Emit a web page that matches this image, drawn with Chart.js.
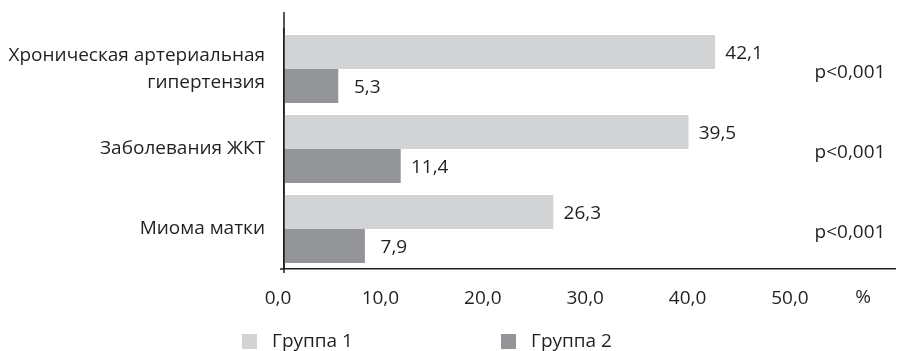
<!DOCTYPE html>
<html>
<head>
<meta charset="utf-8">
<script src="https://cdn.jsdelivr.net/npm/chart.js@4"></script>
<style>
  html, body { margin: 0; padding: 0; background: #ffffff; }
  #wrap { width: 897px; height: 351px; position: relative; }
</style>
</head>
<body>
<div id="wrap"><canvas id="c" width="897" height="351"></canvas></div>
<script>
const categories = [["Хроническая артериальная", "гипертензия"], "Заболевания ЖКТ", "Миома матки"];
const seriesNames = ["Группа 1", "Группа 2"];
const group1 = [42.1, 39.5, 26.3];
const group2 = [5.3, 11.4, 7.9];
const xTickValues = [0, 10, 20, 30, 40, 50];
const pValues = ["p<0,001", "p<0,001", "p<0,001"];
const unitLabel = "%";

const colors = ["#d1d3d4", "#939598"];
const textColor = "#231f20";
const FONT = "'Open Sans', sans-serif";
const FS = 19;

function fmt(v) { return v.toFixed(1).replace('.', ','); }

const annotPlugin = {
  id: 'annot',
  afterDraw(chart) {
    const ctx = chart.ctx;
    const ca = chart.chartArea;
    const ys = chart.scales.y;
    ctx.save();
    ctx.strokeStyle = textColor;
    ctx.lineWidth = 1.5;
    ctx.beginPath();
    ctx.moveTo(ca.left, 12);
    ctx.lineTo(ca.left, ca.bottom + 4);
    ctx.moveTo(ca.left - 4, ca.bottom);
    ctx.lineTo(ca.left, ca.bottom);
    ctx.stroke();

    ctx.font = FS + "px " + FONT;
    ctx.fillStyle = textColor;
    ctx.textBaseline = 'middle';
    ctx.textAlign = 'center';
    chart.data.datasets.forEach((ds, di) => {
      const meta = chart.getDatasetMeta(di);
      meta.data.forEach((bar, i) => {
        ctx.fillText(fmt(ds.data[i]), bar.x + 29, bar.y + 2);
      });
    });
    pValues.forEach((p, i) => {
      const y = ys.getPixelForValue(i);
      ctx.fillText(p, ca.right - 45, y + 4);
    });
    ctx.fillText(unitLabel, ca.right - 32, ca.bottom + 29);
    const legX = [242, 501];
    const legY = 342;
    seriesNames.forEach((n, i) => {
      ctx.fillStyle = colors[i];
      ctx.fillRect(legX[i], legY - 8, 15, 15);
      ctx.fillStyle = textColor;
      ctx.textAlign = 'left';
      ctx.fillText(n, legX[i] + 30, legY);
    });
    ctx.restore();
  }
};

new Chart(document.getElementById('c'), {
  type: 'bar',
  data: {
    labels: categories,
    datasets: [
      { label: seriesNames[0], data: group1, backgroundColor: colors[0], categoryPercentage: 0.85, barPercentage: 1.0 },
      { label: seriesNames[1], data: group2, backgroundColor: colors[1], categoryPercentage: 0.85, barPercentage: 1.0 }
    ]
  },
  options: {
    indexAxis: 'y',
    responsive: false,
    animation: false,
    events: [],
    layout: { padding: { top: 29, right: 2, bottom: 42, left: 0 } },
    plugins: { legend: { display: false }, tooltip: { enabled: false } },
    scales: {
      x: {
        min: 0,
        max: 59.67,
        afterBuildTicks(scale) { scale.ticks = xTickValues.map(v => ({ value: v })); },
        afterFit(scale) { scale.height = 40; scale.paddingLeft = 0; scale.paddingRight = 0; },
        grid: { display: false, drawTicks: false },
        border: { display: true, color: textColor, width: 1.5 },
        ticks: {
          padding: 18,
          labelOffset: -6,
          maxRotation: 0,
          autoSkip: false,
          color: textColor,
          font: { family: FONT, size: FS },
          callback: (v) => fmt(v)
        }
      },
      y: {
        afterFit(scale) { scale.width = 284; scale.paddingTop = 0; scale.paddingBottom = 0; },
        grid: { display: false, drawTicks: false },
        border: { display: true, color: textColor, width: 1.5 },
        ticks: {
          padding: 19,
          color: textColor,
          font: { family: FONT, size: FS, lineHeight: 1.45 }
        }
      }
    }
  },
  plugins: [annotPlugin]
});
</script>
</body>
</html>
